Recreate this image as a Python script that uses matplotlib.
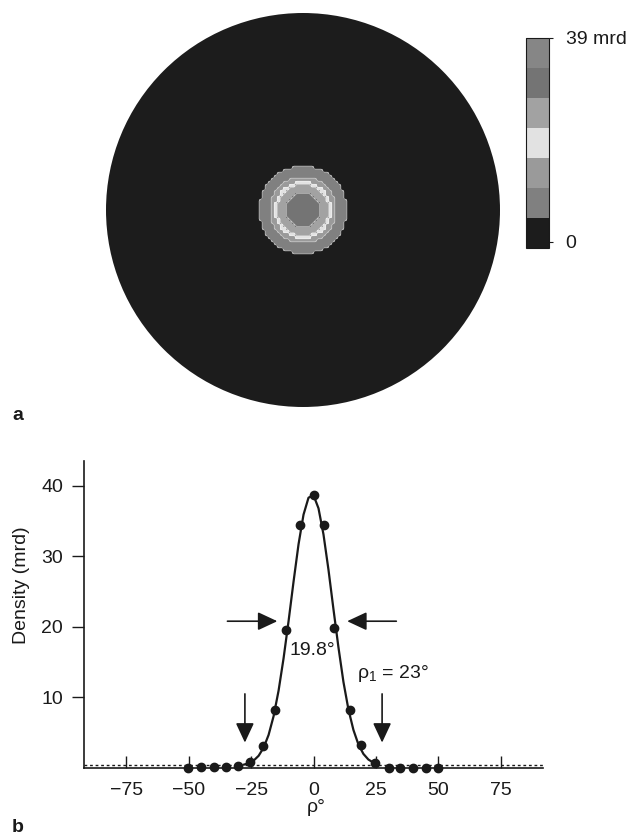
import matplotlib

matplotlib.use("Agg")

import matplotlib.pyplot as plt
import numpy as np
from matplotlib.colors import BoundaryNorm, ListedColormap
from matplotlib.patches import Circle
from matplotlib.ticker import NullLocator

plt.rcParams["font.family"] = ["Liberation Sans", "DejaVu Sans"]
plt.rcParams["mathtext.fontset"] = "custom"
plt.rcParams["mathtext.rm"] = "Liberation Sans"

# panel a: grey-level bands of the pole figure (bottom of scale to top)
band_colors = ["#1c1c1c", "#808080", "#9a9a9a", "#e2e2e2", "#a2a2a2", "#747474", "#868686"]
band_labels = ["0", "39 mrd"]
# outer radius of each density band, as a fraction of the pole-figure radius
ring_band = [1, 2, 3, 4, 5]
ring_radius = [0.223, 0.168, 0.142, 0.128, 0.086]

# panel b: measured profile through the maximum
rho_pts = [-50.4, -45.1, -40.0, -35.0, -30.3, -25.3, -20.3, -15.3, -11.1, -5.3, 0.0,
           4.2, 8.4, 14.5, 19.2, 24.8, 30.1, 34.5, 39.8, 45.2, 50.0]
dens_pts = [0.0, 0.1, 0.1, 0.1, 0.3, 0.85, 3.1, 8.2, 19.6, 34.5, 38.7,
            34.5, 19.9, 8.2, 3.3, 0.75, 0.05, 0.05, 0.0, 0.0, 0.0]
# fitted curve
rho_fit = [-28, -26, -24, -22, -20, -18, -16, -14, -12, -10, -8, -6, -4, -2, 0,
           2, 4, 6, 8, 10, 12, 14, 16, 18, 20, 22, 24, 26]
dens_fit = [0.47, 0.67, 1.05, 1.73, 2.88, 4.69, 7.34, 10.96, 15.54, 20.8, 26.4, 31.7, 35.9, 38.3, 38.66,
            36.8, 33.1, 28.1, 22.5, 17.1, 12.2, 8.3, 5.4, 3.34, 2.0, 1.2, 0.76, 0.52]
background_level = 0.47
fwhm_text = "19.8°"
rho1_text = "ρ$_1$ = 23°"

INK = "#1a1a1a"
FS = 14

fig = plt.figure(figsize=(6.31, 8.34), dpi=100)
W, H = 631.0, 834.0

# ---- panel a --------------------------------------------------------------
ax_pf = fig.add_axes([106 / W, 1 - 407 / H, 394 / W, 394 / H])
n = 131
g = np.linspace(-1, 1, n)
gx, gy = np.meshgrid(g, g)
rr = np.hypot(gx, gy)
bands = np.zeros_like(rr)
for b, r in zip(ring_band, ring_radius):
    bands[rr <= r] = b

cmap = ListedColormap(band_colors)
norm = BoundaryNorm(np.arange(len(band_colors) + 1), cmap.N)
im = ax_pf.imshow(bands + 0.5, cmap=cmap, norm=norm, extent=(-1, 1, -1, 1),
                  origin="lower", interpolation="nearest")
disc = Circle((0, 0), 1.0, transform=ax_pf.transData)
im.set_clip_path(disc)
cs = ax_pf.contour(g, g, bands, levels=np.arange(0.5, 5.5, 1.0), colors="white",
                   linewidths=0.45, alpha=0.6)
cs.set_clip_path(disc)
ax_pf.set_xlim(-1, 1)
ax_pf.set_ylim(-1, 1)
ax_pf.axis("off")

cax = fig.add_axes([526 / W, 1 - 248 / H, 23 / W, 210 / H])
cb = fig.colorbar(im, cax=cax, ticks=[0.2, len(band_colors)])
cb.set_ticklabels(band_labels)
cax.yaxis.set_minor_locator(NullLocator())
cb.outline.set_linewidth(0.8)
cb.outline.set_edgecolor(INK)
cax.tick_params(length=3, width=0.8, pad=9, labelsize=FS, colors=INK)

fig.text(12 / W, 1 - 415 / H, "a", fontsize=FS, fontweight="bold", color=INK, va="center")

# ---- panel b --------------------------------------------------------------
ax = fig.add_axes([84 / W, 1 - 768 / H, 459 / W, 307 / H])
ax.axhline(background_level, color=INK, lw=1.0, ls=(0, (2, 2)))
ax.plot(rho_fit, dens_fit, color=INK, lw=1.6, solid_capstyle="round")
ax.plot(rho_pts, dens_pts, "o", color=INK, ms=6, zorder=3, clip_on=False)

ax.set_xlim(-92, 92)
ax.set_ylim(0, 43.5)
ax.set_xticks([-75, -50, -25, 0, 25, 50, 75])
ax.set_yticks([10, 20, 30, 40])
for side in ("top", "right"):
    ax.spines[side].set_visible(False)
for side in ("left", "bottom"):
    ax.spines[side].set_linewidth(1.2)
    ax.spines[side].set_color(INK)
ax.tick_params(axis="x", direction="in", length=9, width=1.0, pad=10, labelsize=FS, colors=INK)
ax.tick_params(axis="y", direction="out", length=9, width=1.0, pad=6, labelsize=FS, colors=INK)

arrow = dict(arrowstyle="-|>,head_length=1.2,head_width=0.56", color=INK, lw=1.2,
             mutation_scale=10, shrinkA=0, shrinkB=0)
ax.annotate("", xy=(-14.5, 20.8), xytext=(-34.5, 20.8), arrowprops=arrow)
ax.annotate("", xy=(13.5, 20.8), xytext=(33.2, 20.8), arrowprops=arrow)
ax.annotate("", xy=(-27.5, 3.6), xytext=(-27.5, 10.5), arrowprops=arrow)
ax.annotate("", xy=(27.5, 3.6), xytext=(27.5, 10.5), arrowprops=arrow)

ax.text(-0.6, 16.7, fwhm_text, fontsize=FS, color=INK, ha="center", va="center")
ax.text(17.5, 13.4, rho1_text, fontsize=FS, color=INK, ha="left", va="center")

fig.text(22 / W, 1 - 585 / H, "Density (mrd)", rotation=90, fontsize=FS, color=INK,
         ha="center", va="center")
fig.text(316 / W, 1 - 808 / H, "ρ°", fontsize=FS, color=INK, ha="center", va="center")
fig.text(12 / W, 1 - 827 / H, "b", fontsize=FS, fontweight="bold", color=INK, va="center")

fig.savefig("out.png", dpi=100)
